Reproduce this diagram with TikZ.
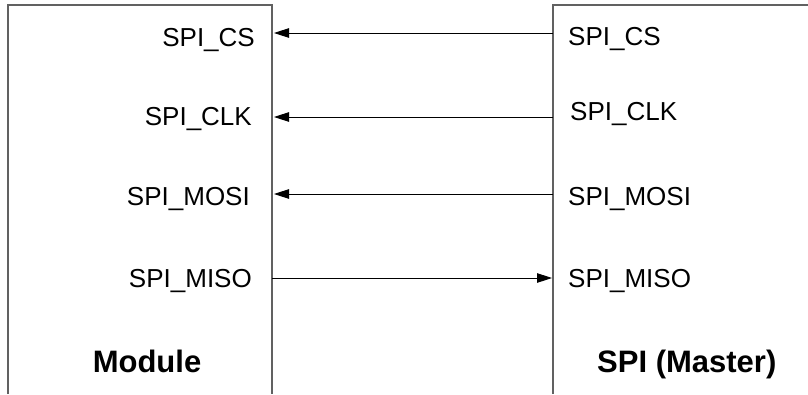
\documentclass[tikz,border=0pt]{standalone}
\usepackage{fontspec}
\setmainfont{Liberation Sans}
\usetikzlibrary{arrows.meta}
\begin{document}
\begin{tikzpicture}[x=1pt,y=-1pt,
  boxline/.style={draw=black!62,line width=1.1pt},
  sig/.style={draw=black,line width=0.9pt,-{Triangle[length=15pt,width=9.5pt]}},
  lbl/.style={inner sep=0pt,font=\fontsize{26}{30}\selectfont},
  title/.style={inner sep=0pt,font=\fontsize{31}{36}\selectfont\bfseries}]
\useasboundingbox (0,0) rectangle (808,394);
% boxes (open at bottom / right)
\draw[boxline] (8,394) -- (8,5) -- (272,5) -- (272,394);
\draw[boxline] (553,394) -- (553,5) -- (808,5);
% left labels
\node[lbl,anchor=base east] (mcs)   at (255,46)  {SPI\_CS};
\node[lbl,anchor=base east] (mclk)  at (252,125) {SPI\_CLK};
\node[lbl,anchor=base east] (mmosi) at (250,205) {SPI\_MOSI};
\node[lbl,anchor=base east] (mmiso) at (252,287) {SPI\_MISO};
\node[title,anchor=base] (module) at (147,372) {Module};
% right labels
\node[lbl,anchor=base west] (scs)   at (568,45)  {SPI\_CS};
\node[lbl,anchor=base west] (sclk)  at (570,120) {SPI\_CLK};
\node[lbl,anchor=base west] (smosi) at (568,205) {SPI\_MOSI};
\node[lbl,anchor=base west] (smiso) at (568,287) {SPI\_MISO};
\node[title,anchor=base west] (master) at (597,372) {SPI (Master)};
% connector ends
\coordinate (lcs) at (274,33);   \coordinate (rcs) at (553,33);
\coordinate (lclk) at (274,117); \coordinate (rclk) at (553,117);
\coordinate (lmosi) at (274,194); \coordinate (rmosi) at (553,194);
\coordinate (lmiso) at (272,278); \coordinate (rmiso) at (552,278);
\draw[sig] (rcs) -- (lcs);
\draw[sig] (rclk) -- (lclk);
\draw[sig] (rmosi) -- (lmosi);
\draw[sig] (lmiso) -- (rmiso);
\end{tikzpicture}
\end{document}
